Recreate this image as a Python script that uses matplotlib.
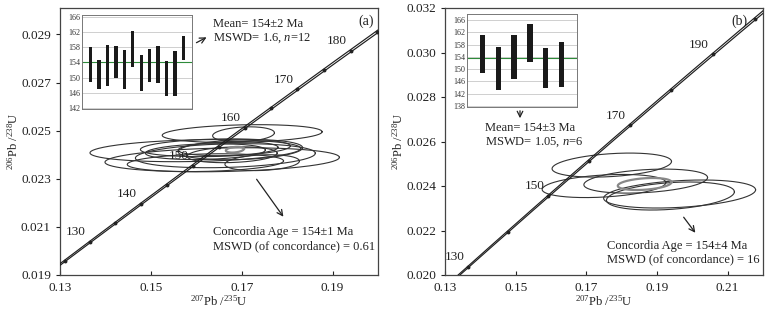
import numpy as np
import matplotlib
matplotlib.use("Agg")
import matplotlib.pyplot as plt

plt.rcParams['font.family'] = ['Liberation Serif', 'DejaVu Serif']
plt.rcParams['mathtext.fontset'] = 'custom'
plt.rcParams['mathtext.rm'] = 'Liberation Serif'
plt.rcParams['mathtext.it'] = 'Liberation Serif:italic'

# ---------------- data ----------------
L238 = 1.55125e-10
L235 = 9.8485e-10
L235_REL_ERR = 0.0018

# panel (a) ellipses: centre x, centre y, half-width x, half-height y, rho
a_cx = [0.1701, 0.1704, 0.1598, 0.1657, 0.1620, 0.1642, 0.1620, 0.1670, 0.1679, 0.1745, 0.1697, 0.1664]
a_cy = [0.02488, 0.02485, 0.02417, 0.02379, 0.02367, 0.02429, 0.02413, 0.02425, 0.02400, 0.02367, 0.02421, 0.02396]
a_sx = [0.0176, 0.0068, 0.0232, 0.0258, 0.0172, 0.0165, 0.0132, 0.0110, 0.0099, 0.0082, 0.0137, 0.0198]
a_sy = [0.00037, 0.00031, 0.00046, 0.00050, 0.00037, 0.00037, 0.00033, 0.00029, 0.00033, 0.00033, 0.00042, 0.00050]
a_rho = 0.2
a_conc = (0.1685, 0.02421, 0.0020, 0.00012)

# panel (b) ellipses
b_cx = [0.1772, 0.1750, 0.1868, 0.1964, 0.1938]
b_cy = [0.02494, 0.02400, 0.02422, 0.02364, 0.02355]
b_sx = [0.0169, 0.0175, 0.0175, 0.0215, 0.0181]
b_sy = [0.00054, 0.00052, 0.00054, 0.00063, 0.00063]
b_rho = 0.3
b_conc = (0.1865, 0.02409, 0.0076, 0.00027)

# inset weighted-mean bars (low, high)
a_bar_lo = [148.8, 147.0, 147.8, 149.8, 147.1, 152.7, 146.4, 148.9, 148.5, 145.3, 145.3, 154.6]
a_bar_hi = [158.0, 154.7, 158.6, 158.3, 157.3, 162.1, 156.0, 157.5, 158.2, 154.3, 157.0, 160.9]
a_mean = 154.0
b_bar_lo = [148.6, 143.0, 146.8, 152.4, 143.7, 144.3]
b_bar_hi = [161.1, 157.1, 161.1, 164.6, 156.8, 158.9]
b_mean = 153.5

a_age_labels = [130, 140, 150, 160, 170, 180]
b_age_labels = [130, 150, 170, 190]
a_dot_ages = np.arange(125, 186, 5)
b_dot_ages = np.arange(130, 201, 10)

a_xticks = [0.13, 0.15, 0.17, 0.19]
a_yticks = [0.019, 0.021, 0.023, 0.025, 0.027, 0.029]
b_xticks = [0.13, 0.15, 0.17, 0.19, 0.21]
b_yticks = [0.020, 0.022, 0.024, 0.026, 0.028, 0.030, 0.032]
a_inset_ticks = [142, 146, 150, 154, 158, 162, 166]
b_inset_ticks = [138, 142, 146, 150, 154, 158, 162, 166]

W, H = 769, 315
fig = plt.figure(figsize=(W / 100, H / 100), dpi=100)
FS = 9.0
TFS = 9.5


def conc(t, f=1.0):
    t = np.asarray(t) * 1e6
    return np.exp(L235 * f * t) - 1, np.exp(L238 * t) - 1


def ell(ax, cx, cy, sx, sy, rho, **kw):
    th = np.linspace(0, 2 * np.pi, 300)
    x = cx + sx * np.cos(th)
    y = cy + sy * (rho * np.cos(th) + np.sqrt(1 - rho ** 2) * np.sin(th))
    ax.plot(x, y, **kw)


def main_panel(rect, xlim, ylim, xticks, yticks, cx, cy, sx, sy, rho, concE,
               labels, dots, tag, tagx):
    ax = fig.add_axes(rect)
    t = np.linspace(110, 215, 600)
    for f in (1 - L235_REL_ERR, 1 + L235_REL_ERR):
        x, y = conc(t, f)
        ax.plot(x, y, color='#1e1e1e', lw=0.85, zorder=3)
    dx, dy = conc(dots)
    ax.plot(dx, dy, 'o', ms=1.8, color='#222222', zorder=4)
    for c1, c2, s1, s2 in zip(cx, cy, sx, sy):
        ell(ax, c1, c2, s1, s2, rho, color='#333333', lw=0.8, zorder=2)
    ell(ax, *concE, 0.3, color='#888888', lw=1.6, zorder=2)
    lx, ly = conc(labels)
    for a, x0, y0 in zip(labels, lx, ly):
        ax.annotate(str(a), (x0, y0), xytext=(-10, 7), textcoords='offset points',
                    ha='center', va='center', fontsize=TFS, color='#222222', zorder=5)
    ax.set_xlim(*xlim)
    ax.set_ylim(*ylim)
    ax.set_xticks(xticks)
    ax.set_yticks(yticks)
    ax.set_xticklabels([f'{v:.2f}' for v in xticks])
    ax.set_yticklabels([f'{v:.3f}' for v in yticks])
    ax.tick_params(axis='x', direction='in', length=3, labelsize=TFS, pad=5, colors='#222222')
    ax.tick_params(axis='y', direction='out', length=3, labelsize=TFS, colors='#222222')
    for s in ax.spines.values():
        s.set_color('#444444')
        s.set_linewidth(0.9)
    ax.set_xlabel(r'$^{207}$Pb /$^{235}$U', fontsize=FS, labelpad=0, color='#222222')
    ax.set_ylabel(r'$^{206}$Pb /$^{238}$U', fontsize=FS, labelpad=0, color='#222222')
    ax.text(tagx, 0.975, tag, transform=ax.transAxes, ha='right', va='top',
            fontsize=10, color='#222222')
    return ax


def px(x0, y0):
    return (x0 / W, 1 - y0 / H)


axa = main_panel([60 / W, 1 - 275 / H, 318 / W, 267 / H], (0.13, 0.20), (0.019, 0.0301),
                 a_xticks, a_yticks, a_cx, a_cy, a_sx, a_sy, a_rho, a_conc,
                 a_age_labels, a_dot_ages, '(a)', 0.988)
axb = main_panel([445 / W, 1 - 275 / H, 318 / W, 267 / H], (0.13, 0.22), (0.020, 0.032),
                 b_xticks, b_yticks, b_cx, b_cy, b_sx, b_sy, b_rho, b_conc,
                 b_age_labels, b_dot_ages, '(b)', 0.95)


def inset(rect, lo, hi, mean, ticks, ylim, width):
    ax = fig.add_axes(rect)
    n = len(lo)
    xs = np.arange(1, n + 1)
    for v in ticks:
        ax.axhline(v, color='#c8c8c8', lw=0.6, zorder=0)
    ax.axhline(mean, color='#2e8b3a', lw=0.8, zorder=1)
    ax.bar(xs, np.array(hi) - np.array(lo), bottom=lo, width=width,
           color='#1a1a1a', zorder=2)
    ax.set_xlim(0, n + 1)
    ax.set_ylim(*ylim)
    ax.set_xticks([])
    ax.set_yticks(ticks)
    ax.tick_params(axis='y', length=0, labelsize=5.8, pad=1.5, colors='#333333')
    for s in ax.spines.values():
        s.set_color('#777777')
        s.set_linewidth(0.7)
    return ax


inset([82 / W, 1 - 109 / H, 110 / W, 94 / H], a_bar_lo, a_bar_hi, a_mean, a_inset_ticks, (141.8, 166.4), 0.4)
inset([467 / W, 1 - 107 / H, 110 / W, 93 / H], b_bar_lo, b_bar_hi, b_mean, b_inset_ticks, (137.6, 168.0), 0.34)

tk = dict(fontsize=FS, color='#222222', va='center', ha='left')
fig.text(*px(213, 24), 'Mean= 154±2 Ma', **tk)
fig.text(*px(213, 38), r'MSWD= 1.6, $n$=12', **tk)
fig.text(*px(213, 232), 'Concordia Age = 154±1 Ma', **tk)
fig.text(*px(213, 246), 'MSWD (of concordance) = 0.61', **tk)
fig.text(*px(485, 128), 'Mean= 154±3 Ma', **tk)
fig.text(*px(485, 142), r'MSWD= 1.05, $n$=6', **tk)
fig.text(*px(607, 246), 'Concordia Age = 154±4 Ma', **tk)
fig.text(*px(607, 259), 'MSWD (of concordance) = 16', **tk)

ap = dict(arrowstyle='->', color='#222222', lw=0.9, mutation_scale=10)
fig.add_artist(matplotlib.patches.FancyArrowPatch(px(194, 44), px(209, 36),
               transform=fig.transFigure, **ap))
fig.add_artist(matplotlib.patches.FancyArrowPatch(px(255, 177), px(285, 219),
               transform=fig.transFigure, **ap))
fig.add_artist(matplotlib.patches.FancyArrowPatch(px(520, 108), px(520, 121),
               transform=fig.transFigure, **ap))
fig.add_artist(matplotlib.patches.FancyArrowPatch(px(682, 215), px(697, 235),
               transform=fig.transFigure, **ap))

fig.savefig('out.png', dpi=100)
